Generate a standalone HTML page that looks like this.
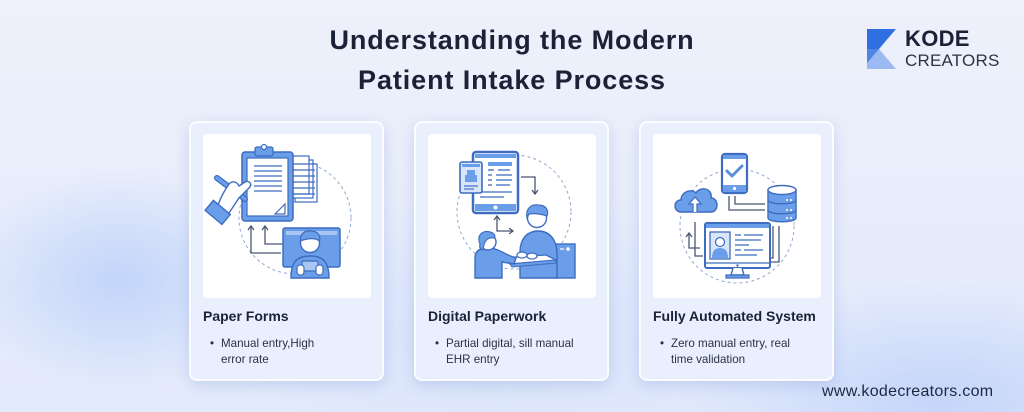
<!DOCTYPE html>
<html><head><meta charset="utf-8">
<style>
*{margin:0;padding:0;box-sizing:border-box}
html,body{width:1024px;height:412px;overflow:hidden}
body{position:relative;font-family:"Liberation Sans",sans-serif;color:#1b2238;
background:
radial-gradient(ellipse 160px 110px at 120px 280px,rgba(190,210,250,0.9),rgba(190,210,250,0) 100%),
radial-gradient(ellipse 260px 120px at 940px 400px,rgba(195,212,250,0.95),rgba(195,212,250,0) 100%),
radial-gradient(ellipse 300px 140px at 512px 330px,rgba(205,220,250,0.6),rgba(205,220,250,0) 100%),
linear-gradient(180deg,#eef1fb 0%,#e6ecfb 60%,#e3eafb 100%);}
.title{position:absolute;left:0;top:20px;width:1024px;text-align:center;font-weight:bold;font-size:27px;line-height:40px;letter-spacing:0.9px;color:#1b2238}
.logo{position:absolute;left:867px;top:29px}
.kode{position:absolute;left:905px;top:26px;font-weight:bold;font-size:22px;color:#1b2238;letter-spacing:0.3px}
.creators{position:absolute;left:905px;top:51px;font-size:17px;color:#2b3346;letter-spacing:0.2px}
.url{position:absolute;left:822px;top:383px;font-size:16px;color:#1e2740;letter-spacing:0.3px}
.card{position:absolute;top:121px;width:195px;height:260px;background:#e9effc;border:2px solid #fbfcff;border-radius:8px;box-shadow:0 4px 14px rgba(110,140,210,0.28)}
.box{position:absolute;left:12px;top:11px;width:168px;height:164px;background:#fff;border-radius:4px}
.box svg{position:absolute;left:0;top:0}
.h{position:absolute;left:12px;top:185px;font-weight:bold;font-size:14px;color:#1b2238;white-space:nowrap}
.b{position:absolute;left:20px;top:213px;font-size:11.6px;line-height:16px;color:#2a3245;white-space:nowrap}
.b .dot{position:absolute;left:-1px;top:0}
.b .t{position:absolute;left:10px;top:0}
</style></head><body>

<div class="title">Understanding the Modern<br>Patient Intake Process</div>

<svg class="logo" width="31" height="40" viewBox="0 0 31 40">
<polygon points="0,0 29,0 12,20 0,20" fill="#2f6fe0"/>
<polygon points="0,20 12,20 29,40 0,40" fill="#9cb9f2"/>
<polygon points="0,20 12,20 0,34" fill="#4f86e6"/>
</svg>
<div class="kode">KODE</div>
<div class="creators">CREATORS</div>

<!-- Card 1 -->
<div class="card" style="left:189px">
 <div class="box">
 <svg width="168" height="164" viewBox="0 0 168 164">
  <circle cx="92" cy="84" r="56" fill="none" stroke="#8fa8d2" stroke-width="1" stroke-dasharray="3 3"/>
  <!-- paper stack -->
  <rect x="92" y="30" width="22" height="38" fill="#fff" stroke="#3d6cc0" stroke-width="1.2"/>
  <rect x="88" y="26" width="22" height="38" fill="#fff" stroke="#3d6cc0" stroke-width="1.2"/>
  <rect x="84" y="22" width="22" height="38" fill="#fff" stroke="#3d6cc0" stroke-width="1.2"/>
  <g stroke="#3d6cc0" stroke-width="1.2">
   <line x1="90" y1="30" x2="112" y2="30"/><line x1="90" y1="36" x2="112" y2="36"/><line x1="90" y1="42" x2="112" y2="42"/><line x1="90" y1="48" x2="112" y2="48"/><line x1="90" y1="54" x2="112" y2="54"/><line x1="90" y1="60" x2="112" y2="60"/>
  </g>
  <!-- clipboard -->
  <rect x="39" y="18" width="51" height="69" rx="3" fill="#6a9ee8" stroke="#3d6cc0" stroke-width="1.5"/>
  <rect x="44" y="24" width="41" height="58" fill="#fff" stroke="#3d6cc0" stroke-width="1.2"/>
  <rect x="52" y="13" width="18" height="9" rx="2" fill="#6a9ee8" stroke="#3d6cc0" stroke-width="1.3"/>
  <circle cx="61" cy="13" r="2.5" fill="#fff" stroke="#3d6cc0" stroke-width="1.2"/>
  <g stroke="#3d6cc0" stroke-width="1.3">
   <line x1="51" y1="32" x2="79" y2="32"/><line x1="51" y1="37" x2="79" y2="37"/><line x1="51" y1="42" x2="79" y2="42"/><line x1="51" y1="47" x2="79" y2="47"/><line x1="51" y1="52" x2="79" y2="52"/><line x1="51" y1="57" x2="79" y2="57"/>
  </g>
  <polygon points="72,80 82,70 82,80" fill="#fff" stroke="#3d6cc0" stroke-width="1.2"/>
  <!-- pen -->
  <line x1="14" y1="44" x2="42" y2="65" stroke="#3d6cc0" stroke-width="6" stroke-linecap="round"/>
  <line x1="14" y1="44" x2="42" y2="65" stroke="#6a9ee8" stroke-width="3.5" stroke-linecap="round"/>
  <!-- hand -->
  <path d="M14,74 C18,62 22,56 26,50 C30,46 34,48 36,52 L42,48 C46,46 50,50 46,54 L36,64 C32,70 28,76 24,82 Z" fill="#fff" stroke="#3d6cc0" stroke-width="1.4"/>
  <rect x="4" y="72" width="22" height="13" transform="rotate(40 15 78)" fill="#6a9ee8" stroke="#3d6cc0" stroke-width="1.4"/>
  <!-- arrows -->
  <g fill="none" stroke="#4a5670" stroke-width="1.3">
   <polyline points="78,119 48,119 48,93"/>
   <polyline points="80,110 62,110 62,93"/>
   <polyline points="45,96 48,92 51,96"/>
   <polyline points="59,96 62,92 65,96"/>
  </g>
  <!-- monitor -->
  <rect x="80" y="94" width="57" height="39" rx="2" fill="#6a9ee8" stroke="#3d6cc0" stroke-width="1.5"/>
  <rect x="83" y="97" width="51" height="4" fill="#a9c6f2"/>
  <!-- person -->
  <path d="M88,144 C88,128 94,122 107,122 C120,122 126,128 126,144 Z" fill="#6a9ee8" stroke="#3d6cc0" stroke-width="1.4"/>
  <circle cx="107" cy="109" r="9.5" fill="#fff" stroke="#3d6cc0" stroke-width="1.4"/>
  <path d="M97.5,107 C97,99 103,96 108,97 C114,97 118,101 116.5,107 C113,104 106,104 100,106 Z" fill="#6a9ee8" stroke="#3d6cc0" stroke-width="1.2"/>
  <rect x="99" y="127" width="16" height="10" rx="1" fill="#a9c6f2" stroke="#3d6cc0" stroke-width="1.2"/>
  <rect x="94" y="131" width="7" height="10" rx="3" fill="#fff" stroke="#3d6cc0" stroke-width="1.2"/>
  <rect x="113" y="131" width="7" height="10" rx="3" fill="#fff" stroke="#3d6cc0" stroke-width="1.2"/>
 </svg>
 </div>
 <div class="h">Paper Forms</div>
 <div class="b"><span class="dot">•</span><span class="t">Manual entry,High<br>error rate</span></div>
</div>

<!-- Card 2 -->
<div class="card" style="left:414px">
 <div class="box">
 <svg width="168" height="164" viewBox="0 0 168 164">
  <circle cx="86" cy="78" r="57" fill="none" stroke="#8fa8d2" stroke-width="1" stroke-dasharray="3 3"/>
  <!-- tablet -->
  <rect x="45" y="18" width="45" height="61" rx="3" fill="#fff" stroke="#3d6cc0" stroke-width="2.5"/>
  <rect x="47" y="20" width="41" height="4" fill="#6a9ee8"/>
  <rect x="60" y="28" width="24" height="4" fill="#6a9ee8"/>
  <g stroke="#3d6cc0" stroke-width="1.3">
   <line x1="60" y1="36" x2="66" y2="36"/><line x1="70" y1="36" x2="82" y2="36"/>
   <line x1="60" y1="41" x2="64" y2="41"/><line x1="68" y1="41" x2="84" y2="41"/>
   <line x1="60" y1="46" x2="64" y2="46"/><line x1="68" y1="46" x2="84" y2="46"/>
   <line x1="60" y1="51" x2="64" y2="51"/><line x1="68" y1="51" x2="82" y2="51"/>
   <line x1="52" y1="58" x2="84" y2="58"/><line x1="52" y1="63" x2="76" y2="63"/>
  </g>
  <rect x="47" y="70" width="41" height="7" fill="#6a9ee8"/>
  <circle cx="67.5" cy="73.5" r="2" fill="#fff"/>
  <!-- phone card -->
  <rect x="32" y="28" width="22" height="31" rx="2" fill="#d9e6fa" stroke="#3d6cc0" stroke-width="1.6"/>
  <rect x="34" y="30" width="18" height="3" fill="#6a9ee8"/>
  <rect x="39" y="36" width="8" height="6" fill="#6a9ee8"/>
  <rect x="37" y="41" width="12" height="7" fill="#6a9ee8"/>
  <line x1="36" y1="52" x2="50" y2="52" stroke="#3d6cc0" stroke-width="1.2"/>
  <line x1="36" y1="55" x2="46" y2="55" stroke="#3d6cc0" stroke-width="1.2"/>
  <!-- arrows -->
  <g fill="none" stroke="#4a5670" stroke-width="1.3">
   <polyline points="93,43 107,43 107,60"/><polyline points="104,56 107,60 110,56"/>
   <polyline points="69,82 69,97 85,97"/><polyline points="66,86 69,82 72,86"/><polyline points="81,94 85,97 81,100"/>
  </g>
  <!-- device right -->
  <rect x="128" y="110" width="19" height="34" fill="#6a9ee8" stroke="#3d6cc0" stroke-width="1.4"/>
  <circle cx="140" cy="115" r="1.8" fill="#fff"/><line x1="132" y1="115" x2="136" y2="115" stroke="#fff" stroke-width="1.2"/>
  <!-- man -->
  <path d="M92,144 L92,118 C92,104 100,97 110,97 C122,97 129,106 129,120 L129,144 Z" fill="#6a9ee8" stroke="#3d6cc0" stroke-width="1.4"/>
  <circle cx="109" cy="84" r="9.5" fill="#fff" stroke="#3d6cc0" stroke-width="1.4"/>
  <path d="M99,84 C97,74 104,70 110,71 C118,71 121,76 119,82 C114,80 106,79 101,80 Z" fill="#6a9ee8" stroke="#3d6cc0" stroke-width="1.2"/>
  <!-- table -->
  <polygon points="72,124 118,121 128,126 82,130" fill="#fff" stroke="#3d6cc0" stroke-width="1.3"/>
  <polygon points="82,130 128,126 128,129 84,133" fill="#6a9ee8" stroke="#3d6cc0" stroke-width="1"/>
  <!-- woman -->
  <path d="M47,144 L47,124 C47,116 53,114 60,114 C68,114 74,118 80,121 L88,124 L86,130 L74,128 L74,144 Z" fill="#6a9ee8" stroke="#3d6cc0" stroke-width="1.4"/>
  <circle cx="60" cy="108" r="8" fill="#fff" stroke="#3d6cc0" stroke-width="1.4"/>
  <path d="M52,110 C48,100 56,96 62,98 C66,99 68,102 66,104 C60,103 56,106 55,116 C53,116 51,114 52,110 Z" fill="#6a9ee8" stroke="#3d6cc0" stroke-width="1.2"/>
  <ellipse cx="94" cy="121" rx="5" ry="3" fill="#fff" stroke="#3d6cc0" stroke-width="1.2"/>
  <ellipse cx="104" cy="122" rx="5" ry="3" fill="#fff" stroke="#3d6cc0" stroke-width="1.2"/>
 </svg>
 </div>
 <div class="h">Digital Paperwork</div>
 <div class="b"><span class="dot">•</span><span class="t">Partial digital, sill manual<br>EHR entry</span></div>
</div>

<!-- Card 3 -->
<div class="card" style="left:639px">
 <div class="box">
 <svg width="168" height="164" viewBox="0 0 168 164">
  <circle cx="84" cy="92" r="57" fill="none" stroke="#8fa8d2" stroke-width="1" stroke-dasharray="3 3"/>
  <!-- connectors -->
  <g fill="none" stroke="#4a5670" stroke-width="1.3">
   <polyline points="76,62 76,76 112,76"/>
   <polyline points="82,62 82,70 112,70"/>
   <polyline points="120,92 120,124 117,124"/>
   <polyline points="126,92 126,128 117,128"/>
   <polyline points="50,122 42,122 42,88"/>
   <polyline points="47,114 36,114 36,100"/>
   <polyline points="33,103 36,99 39,103"/>
  </g>
  <!-- phone -->
  <rect x="69" y="20" width="25" height="39" rx="3" fill="#fff" stroke="#3d6cc0" stroke-width="2.2"/>
  <rect x="70" y="21" width="23" height="4" fill="#6a9ee8"/>
  <rect x="70" y="51" width="23" height="7" fill="#6a9ee8"/>
  <circle cx="81.5" cy="54.5" r="1.6" fill="#fff"/>
  <polyline points="74,37 79,42 89,32" fill="none" stroke="#5b8fdc" stroke-width="3" stroke-linecap="round" stroke-linejoin="round"/>
  <!-- database -->
  <g stroke="#3d6cc0" stroke-width="1.4" fill="#6a9ee8">
   <path d="M115,76 L115,84 C115,89 143,89 143,84 L143,76 Z"/>
   <path d="M115,66 L115,76 C115,81 143,81 143,76 L143,66 Z"/>
   <path d="M115,56 L115,66 C115,71 143,71 143,66 L143,56 Z"/>
   <ellipse cx="129" cy="56" rx="14" ry="4.5" fill="#fff"/>
  </g>
  <g fill="#fff"><circle cx="138" cy="66" r="1"/><circle cx="134" cy="66" r="1"/><circle cx="138" cy="76" r="1"/><circle cx="134" cy="76" r="1"/><circle cx="138" cy="84" r="1"/><circle cx="134" cy="84" r="1"/></g>
  <!-- cloud -->
  <path d="M28,78 C20,78 20,66 28,66 C28,58 38,54 43,59 C47,52 60,54 58,64 C66,64 66,78 58,78 Z" fill="#6a9ee8" stroke="#3d6cc0" stroke-width="1.4"/>
  <path d="M40,78 L40,70 L36,70 L42,63 L48,70 L44,70 L44,78" fill="#fff" stroke="#3d6cc0" stroke-width="1.2"/>
  <!-- monitor -->
  <rect x="52" y="89" width="65" height="45" rx="2" fill="#fff" stroke="#3d6cc0" stroke-width="2"/>
  <rect x="53" y="90" width="63" height="4" fill="#6a9ee8"/>
  <line x1="53" y1="129" x2="116" y2="129" stroke="#3d6cc0" stroke-width="1.2"/>
  <circle cx="84.5" cy="131.5" r="1.2" fill="#3d6cc0"/>
  <rect x="57" y="98" width="20" height="27" fill="#d9e6fa" stroke="#3d6cc0" stroke-width="1.3"/>
  <path d="M59,124 C59,116 63,114 67,114 C71,114 75,116 75,124 Z" fill="#6a9ee8"/>
  <circle cx="67" cy="108" r="4.5" fill="#fff" stroke="#3d6cc0" stroke-width="1.2"/>
  <g stroke="#3d6cc0" stroke-width="1.3">
   <line x1="82" y1="101" x2="88" y2="101"/><line x1="91" y1="101" x2="110" y2="101"/>
   <line x1="82" y1="106" x2="108" y2="106"/>
   <line x1="82" y1="111" x2="96" y2="111"/>
   <line x1="82" y1="116" x2="88" y2="116"/><line x1="91" y1="116" x2="110" y2="116"/>
   <line x1="82" y1="121" x2="104" y2="121"/>
  </g>
  <path d="M80,134 L78,141 L91,141 L89,134" fill="#fff" stroke="#3d6cc0" stroke-width="1.4"/>
  <rect x="73" y="141" width="23" height="3" fill="#6a9ee8" stroke="#3d6cc0" stroke-width="1.2"/>
 </svg>
 </div>
 <div class="h">Fully Automated System</div>
 <div class="b"><span class="dot">•</span><span class="t">Zero manual entry, real<br>time validation</span></div>
</div>

<div class="url">www.kodecreators.com</div>
</body></html>
